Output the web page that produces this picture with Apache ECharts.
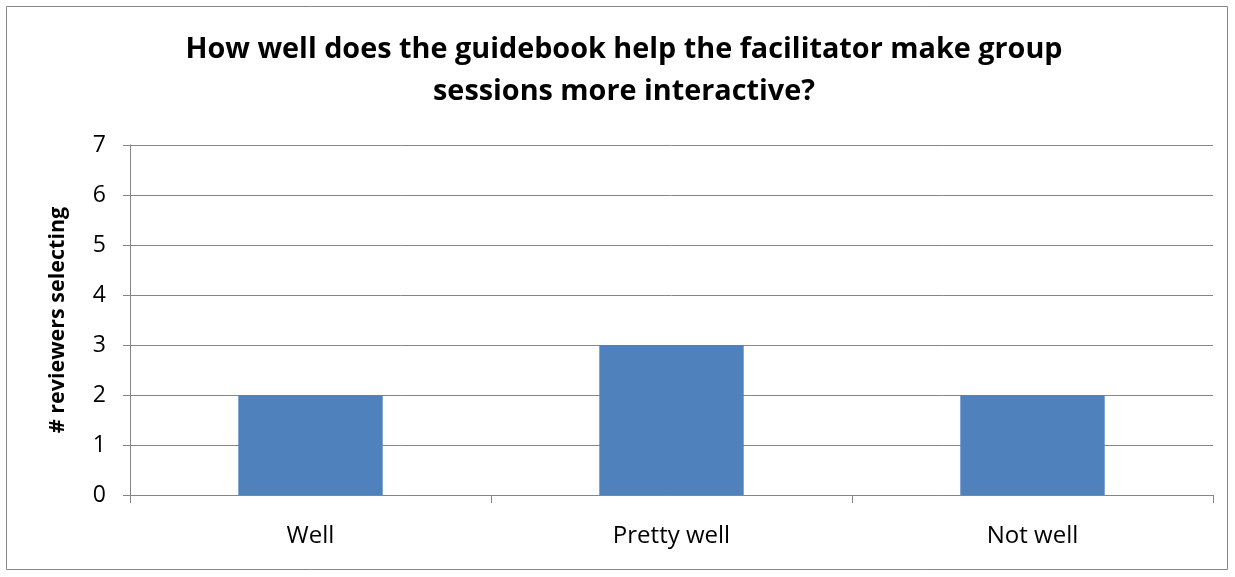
<!DOCTYPE html>
<html>
<head>
<meta charset="utf-8">
<style>
  html, body { margin: 0; padding: 0; background: #fff; }
  #chart { width: 1235px; height: 577px; }
</style>
<script src="https://cdn.jsdelivr.net/npm/echarts@6/dist/echarts.min.js"></script>
</head>
<body>
<div id="chart"></div>
<script>
// Survey responses per rating
const categories = ['Well', 'Pretty well', 'Not well'];
const reviewerCounts = [2, 3, 2];
const titleLines = [
  'How well does the guidebook help the facilitator make group',
  'sessions more interactive?'
];
const yAxisTitle = '# reviewers selecting';

const axisGray = '#868686';
const font = '"Open Sans", "Liberation Sans", sans-serif';

// Two-line chart heading, centred over the chart
const titleGraphics = titleLines.map((line, i) => ({
  type: 'text',
  x: 624,
  y: 50 + i * 42,
  silent: true,
  style: {
    text: line,
    fill: '#000',
    font: 'bold 28.8px ' + font,
    textAlign: 'center',
    textVerticalAlign: 'middle'
  }
}));

const chart = echarts.init(document.getElementById('chart'), null, { renderer: 'canvas' });
chart.setOption({
  animation: false,
  backgroundColor: '#ffffff',
  graphic: [{
    type: 'rect',
    shape: { x: 6.5, y: 6.5, width: 1221, height: 563 },
    style: { fill: 'none', stroke: axisGray, lineWidth: 1 },
    silent: true
  }].concat(titleGraphics),
  grid: { left: 130, right: 22, top: 145, bottom: 82 },
  xAxis: {
    type: 'category',
    data: categories,
    axisLine: { show: true, lineStyle: { color: axisGray, width: 1 } },
    axisTick: { show: true, length: 8, alignWithLabel: false, lineStyle: { color: axisGray } },
    axisLabel: { fontFamily: font, fontSize: 24, color: '#000', margin: 29 },
    splitLine: { show: false }
  },
  yAxis: {
    type: 'value',
    min: 0,
    max: 7,
    interval: 1,
    name: yAxisTitle,
    nameLocation: 'middle',
    nameGap: 61,
    nameTextStyle: { fontFamily: font, fontSize: 21.5, fontWeight: 'bold', color: '#000' },
    axisLine: { show: true, lineStyle: { color: axisGray, width: 1 } },
    axisTick: { show: true, inside: false, length: 7, lineStyle: { color: axisGray } },
    axisLabel: { fontFamily: font, fontSize: 23, color: '#000', margin: 24 },
    splitLine: { show: true, lineStyle: { color: axisGray, width: 1 } }
  },
  series: [{
    type: 'bar',
    data: reviewerCounts,
    barWidth: '40%',
    itemStyle: { color: '#4F81BD' }
  }]
});
</script>
</body>
</html>
